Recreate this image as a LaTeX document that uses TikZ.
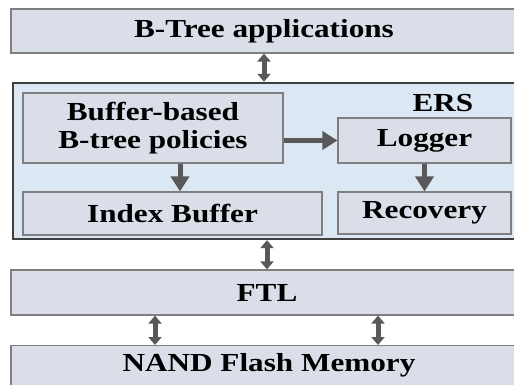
\documentclass[tikz,border=0pt]{standalone}
\usepackage{fontspec}
\setmainfont[FakeStretch=1.2]{Liberation Serif}
\usetikzlibrary{arrows.meta,calc}
\definecolor{boxfill}{HTML}{D9DEE8}
\definecolor{ersfill}{HTML}{DCE7F4}
\definecolor{boxline}{HTML}{7F7F7F}
\definecolor{arrowgray}{HTML}{595959}
\tikzset{
  block/.style={draw=boxline,line width=1.2pt,fill=boxfill,inner sep=2pt,
    font=\bfseries\fontsize{26}{28}\selectfont,align=center},
  group/.style={draw=black!75,line width=2.4pt,fill=ersfill},
  flow/.style={-{Triangle[length=15pt,width=18pt]},line width=5pt,arrowgray},
  link/.style={{Triangle[length=8pt,width=13pt]}-{Triangle[length=8pt,width=13pt]},line width=5pt,arrowgray}
}

\begin{document}
\begin{tikzpicture}[x=1pt,y=-1pt]
    \useasboundingbox (0,0) rectangle (514,385);
    \clip (0,0) rectangle (514,385);
    \fill[white] (0,0) rectangle (514,385);
    % layers
    \node[block,minimum width=506pt,minimum height=44pt] (app) at (264,31) {B-Tree applications};
    \node[group,minimum width=517pt,minimum height=156pt] (ers) at (271.5,161) {};
    \node[font=\bfseries\fontsize{26}{28}\selectfont] (erslabel) at (443,103) {ERS};
    \node[block,minimum width=260pt,minimum height=70pt] (buf) at (153,128) {Buffer-based\\B-tree policies};
    \node[block,minimum width=173pt,minimum height=45pt] (logger) at (424.5,140.5) {Logger};
    \node[block,minimum width=299pt,minimum height=43pt] (idx) at (172.5,213.5) {Index Buffer};
    \node[block,minimum width=173pt,minimum height=42pt] (rec) at (424.5,213) {Recovery};
    \node[block,minimum width=512pt,minimum height=45pt] (ftl) at (267,292.5) {FTL};
    \node[block,anchor=north,minimum width=516pt,text height=24pt,text depth=24pt] (nand) at (269,345) {NAND Flash Memory};
    % arrows
    \draw[link] (app.south) -- (app.south |- ers.north);
    \draw[flow] (buf.east |- logger.west) -- (logger.west);
    \draw[flow] ([xshift=27pt]buf.south) -- ([xshift=27pt]buf.south |- idx.north);
    \draw[flow] (logger.south) -- (rec.north);
    \draw[link] (ftl.north |- ers.south) -- (ftl.north);
    \draw[link] ([xshift=-112pt]ftl.south) -- ([xshift=-112pt]ftl.south |- nand.north);
    \draw[link] ([xshift=111pt]ftl.south) -- ([xshift=111pt]ftl.south |- nand.north);
\end{tikzpicture}
\end{document}
